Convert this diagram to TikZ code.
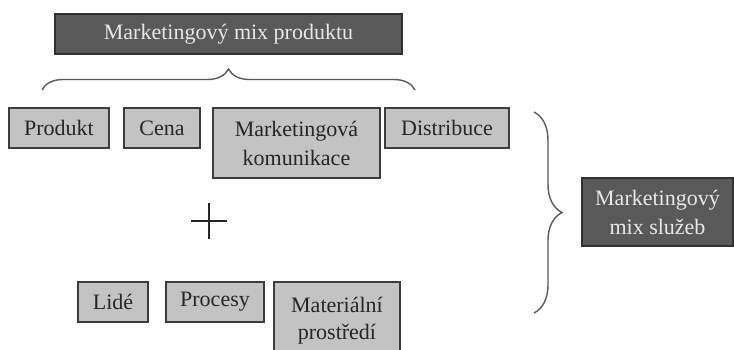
\documentclass[tikz,border=0pt]{standalone}
\usepackage{fontspec}
\setmainfont{Liberation Serif}
\usetikzlibrary{decorations.pathreplacing}
\definecolor{darkfill}{HTML}{595959}
\definecolor{lightfill}{HTML}{C3C3C3}
\definecolor{boxline}{HTML}{3C3C3C}
\definecolor{darktext}{HTML}{E8E8E8}
\definecolor{bracecol}{HTML}{5A5A5A}
\begin{document}
\begin{tikzpicture}[x=1pt,y=-1pt,
  every node/.style={inner sep=0pt, outer sep=0pt, align=center,
    font=\fontsize{22}{29}\selectfont},
  lightbox/.style={draw=boxline, line width=1.5pt, fill=lightfill, text=black!85},
  darkbox/.style={draw=boxline!80!black, line width=1.5pt, fill=darkfill, text=darktext},
  curly/.style={draw=bracecol, line width=1.4pt,
    decorate, decoration={brace, amplitude=#1}}]
\useasboundingbox (0,0) rectangle (734,349);

% headline box
\node[darkbox, minimum width=347pt, minimum height=40pt] (mixprod) at (228.5,34) {Marketingový mix produktu};

% four classical elements
\node[lightbox, minimum width=100pt, minimum height=40pt] (produkt) at (59,128) {Produkt};
\node[lightbox, minimum width=76pt, minimum height=40pt] (cena) at (162,128) {Cena};
\node[lightbox, minimum width=167pt, minimum height=70pt] (komunikace) at (296.5,143) {Marketingová\\komunikace};
\node[lightbox, minimum width=124pt, minimum height=40pt] (distribuce) at (447,128) {Distribuce};

% three service elements
\node[lightbox, minimum width=70pt, minimum height=40pt] (lide) at (113,302) {Lidé};
\node[lightbox, minimum width=98pt, minimum height=40pt] (procesy) at (215,302) {Procesy};
\node[lightbox, minimum width=126pt, minimum height=76pt, anchor=north] (prostredi) at (337,282) {\raisebox{10pt}{\begin{tabular}{@{}c@{}}Materiální\\[-2pt]prostředí\end{tabular}}};

% service mix box
\node[darkbox, minimum width=151pt, minimum height=68pt] (mixsluz) at (657.5,212) {Marketingový\\mix služeb};

% plus sign
\coordinate (plus) at (209,221);
\draw[line width=1.8pt, black!85] ([xshift=-18pt]plus) -- ([xshift=18pt]plus)
  ([yshift=-18pt]plus) -- ([yshift=18pt]plus);

% braces
\coordinate (tbl) at (42,90);
\coordinate (tbr) at (415,90);
\path[curly=21pt] (tbl) -- (tbr);
\coordinate (rbt) at (534,112);
\coordinate (rbb) at (534,313);
\path[curly=28pt] (rbt) -- (rbb);
\end{tikzpicture}
\end{document}
